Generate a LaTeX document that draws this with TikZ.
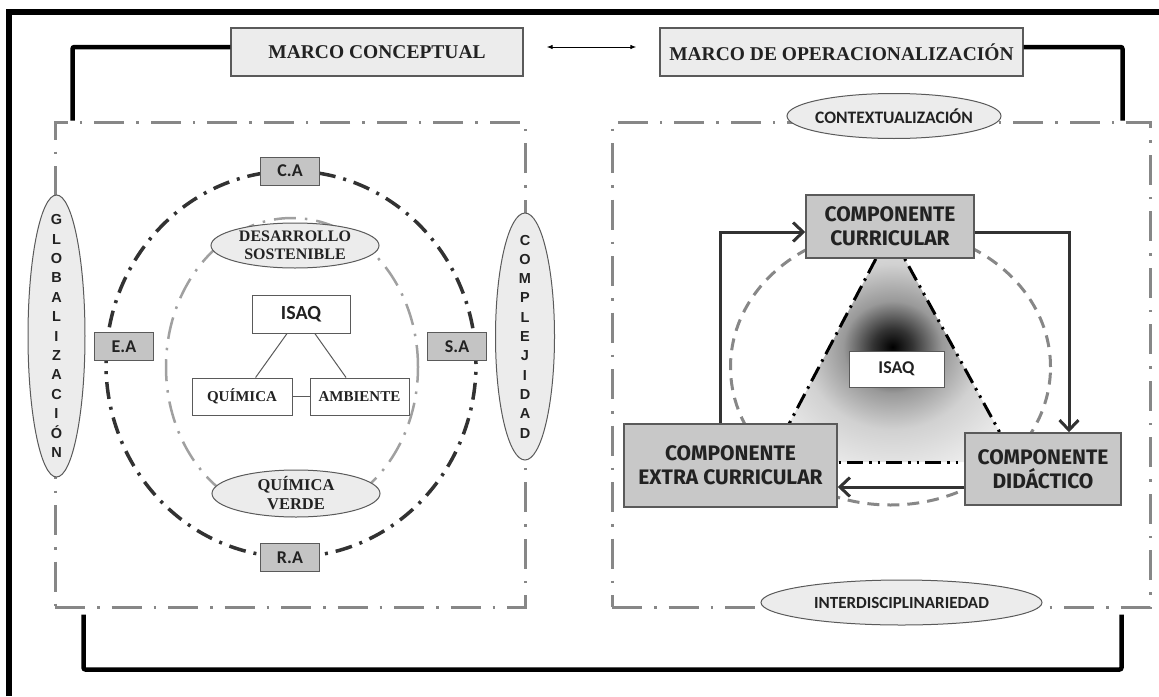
\documentclass[tikz,border=0pt]{standalone}
\usepackage{fontspec}
\setmainfont{Liberation Serif}
\newfontfamily\calibfont{Carlito}
\newfontfamily\arialfont{Liberation Sans}
\newfontfamily\comicfont{Fira Sans}
\usepackage{tikz}
\usetikzlibrary{arrows.meta,positioning,shapes.geometric}
\definecolor{isaqInk}{RGB}{34,34,34}
\definecolor{isaqEdge}{RGB}{90,90,90}
\definecolor{isaqLightGray}{RGB}{236,236,236}
\definecolor{isaqTag}{RGB}{196,196,196}
\definecolor{isaqComp}{RGB}{200,200,200}
\definecolor{isaqRegion}{RGB}{135,135,135}
\definecolor{isaqRing}{RGB}{50,50,50}
\definecolor{isaqHalo}{RGB}{160,160,160}
\definecolor{isaqFlow}{RGB}{50,50,50}
\pgfdeclareradialshading{isaqglow}{\pgfpoint{0bp}{0bp}}{color(0bp)=(black); color(4bp)=(black!80); color(10bp)=(black!40); color(18bp)=(black!18); color(28bp)=(black!8); color(38bp)=(white); color(50bp)=(white)}

\begin{document}
\begin{tikzpicture}[x=1pt,y=-1pt,
  every node/.style={text=isaqInk},
  marco/.style={draw=isaqEdge,fill=isaqLightGray,line width=1.2pt,minimum width=292pt,minimum height=48pt,inner sep=0pt,font=\bfseries\fontsize{19.5}{20}\selectfont},
  region/.style={draw=isaqRegion,line width=3pt,dash pattern=on 30pt off 12pt on 2.5pt off 12pt,inner sep=0pt},
  tag/.style={draw=isaqEdge,fill=isaqTag,line width=1pt,minimum width=59pt,minimum height=28pt,inner sep=0pt,font=\calibfont\bfseries\fontsize{18}{18}\selectfont},
  concept/.style={draw=isaqEdge,fill=white,line width=1pt,minimum height=37pt,inner sep=0pt},
  bubble/.style={ellipse,draw=isaqEdge,fill=isaqLightGray,line width=1pt,inner sep=0pt},
  bubbletext/.style={align=center,inner sep=0pt},
  compbox/.style={draw=isaqEdge,fill=isaqComp,line width=1.5pt,align=center,inner sep=0pt,font=\comicfont\bfseries\fontsize{21}{24}\selectfont},
  link/.style={line width=4.5pt,black,rounded corners=2pt},
  twoway/.style={{Latex[length=6pt]}-{Latex[length=6pt]},line width=1pt,shorten <=23pt,shorten >=23pt},
  ring/.style={draw=isaqRing,line width=3.5pt,dash pattern=on 17pt off 8pt on 3pt off 8pt},
  halo/.style={draw=isaqHalo,line width=2.5pt,dash pattern=on 22pt off 9pt on 2.5pt off 9pt},
  ringdash/.style={draw=isaqRegion,line width=3pt,dash pattern=on 12pt off 8pt},
  tie/.style={draw=isaqEdge,line width=1pt},
  sideA/.style={draw=black,line width=3pt,dash pattern=on 16pt off 6pt on 2.5pt off 6pt},
  sideB/.style={draw=black,line width=3pt,dash pattern=on 16pt off 6pt on 2.5pt off 6pt on 2.5pt off 6pt},
  flow/.style={line width=3pt,isaqFlow,-{Straight Barb[length=10pt,width=19pt]}}
]
  \useasboundingbox (0,0) rectangle (1159,696);
  % outer frame
  \draw[line width=5.5pt] (9,696) -- (9,12) -- (1159,12);

  % frameworks
  \node[marco] (concept) at (377,52) {MARCO CONCEPTUAL};
  \node[marco,minimum width=363pt] (oper) at (841.5,52) {MARCO DE OPERACIONALIZACIÓN};
  \draw[twoway] ([yshift=5pt]concept.east) -- ([yshift=5pt]oper.west);

  \node[region,minimum width=470pt,minimum height=485pt] (left) at (290,364.5) {};
  \node[region,minimum width=538pt,minimum height=485pt] (right) at (881,364.5) {};

  \draw[link] ([yshift=5pt]concept.west) -| ([xshift=19pt]left.north west);
  \draw[link] ([yshift=5pt]oper.east) -| ([xshift=-29pt]right.north east);
  \coordinate (leftfoot) at ([xshift=30pt,yshift=-6pt]left.south west);
  \coordinate (rightfoot) at ([xshift=-30pt,yshift=-6pt]right.south east);
  \draw[link] (leftfoot) -- ++(0,55) -| (rightfoot);

  % conceptual side
  \draw[ring] (291,364) ellipse [x radius=185pt,y radius=193pt];
  \draw[halo] (292,367) ellipse [x radius=126pt,y radius=149pt];

  \node[bubble,minimum width=57pt,minimum height=282pt] (glob) at (56.5,336) {};
  \node[bubbletext,font=\arialfont\bfseries\fontsize{14.5}{19.4}\selectfont] (globtext) at (glob) {G\\L\\O\\B\\A\\L\\I\\Z\\A\\C\\I\\Ó\\N};
  \node[bubble,minimum width=59pt,minimum height=247pt] (compl) at (525,336.5) {};
  \node[bubbletext,font=\arialfont\bfseries\fontsize{14.5}{19.3}\selectfont] (compltext) at (compl) {C\\O\\M\\P\\L\\E\\J\\I\\D\\A\\D};

  \node[tag] (ca) at (290,171) {C.A};
  \node[tag] (ea) at (124,346.5) {E.A};
  \node[tag] (sa) at (457,346.5) {S.A};
  \node[tag] (ra) at (290,557.5) {R.A};

  \node[bubble,minimum width=168pt,minimum height=45pt] (devel) at (295,245.5) {};
  \node[bubbletext,font=\bfseries\fontsize{16}{18}\selectfont] (develtext) at (devel) {DESARROLLO\\SOSTENIBLE};
  \node[bubble,minimum width=168pt,minimum height=47pt] (green) at (296,493.5) {};
  \node[bubbletext,font=\bfseries\fontsize{16.5}{19}\selectfont] (greentext) at (green) {QUÍMICA\\VERDE};

  \node[concept,minimum width=98pt,minimum height=38pt,font=\calibfont\bfseries\fontsize{20}{20}\selectfont] (isaqleft) at (301,314) {ISAQ};
  \node[concept,minimum width=100pt,font=\bfseries\fontsize{15}{15}\selectfont] (quimica) at (242,396.5) {QUÍMICA};
  \node[concept,minimum width=99pt,font=\bfseries\fontsize{15}{15}\selectfont,right=17pt of quimica] (ambiente) {AMBIENTE};
  \draw[tie] (isaqleft) -- (quimica);
  \draw[tie] (isaqleft) -- (ambiente);
  \draw[tie] (quimica) -- (ambiente);

  % operational side
  \node[bubble,minimum width=214pt,minimum height=45pt] (context) at (894,116) {};
  \node[bubbletext,font=\calibfont\bfseries\fontsize{17.5}{18}\selectfont] (contexttext) at (context) {CONTEXTUALIZACIÓN};
  \node[bubble,minimum width=281pt,minimum height=45pt] (inter) at (901.5,602.5) {};
  \node[bubbletext,font=\calibfont\bfseries\fontsize{17}{18}\selectfont] (intertext) at (inter) {INTERDISCIPLINARIEDAD};

  \draw[ringdash] (890.5,367) ellipse [x radius=160pt,y radius=138pt];

  \coordinate (apex) at (890,232);
  \coordinate (baseleft) at (769,462);
  \coordinate (baseright) at (1016,462);
  \shade[shading=isaqglow] (apex) -- (baseleft) -- (baseright) -- cycle;
  \draw[sideA] (apex) -- (baseleft);
  \draw[sideB] (apex) -- (baseright);
  \draw[sideB] (baseleft) -- (baseright);

  \node[concept,minimum width=95pt,minimum height=36pt,font=\calibfont\bfseries\fontsize{18}{18}\selectfont] (isaqright) at (896.5,369) {ISAQ};

  \node[compbox,minimum width=168pt,minimum height=63pt] (curricular) at (890,226.5) {COMPONENTE\\CURRICULAR};
  \node[compbox,minimum width=213pt,minimum height=83pt] (extra) at (730.5,465.5) {COMPONENTE\\EXTRA CURRICULAR};
  \node[compbox,minimum width=156pt,minimum height=72pt] (didactic) at (1043,469) {COMPONENTE\\DIDÁCTICO};

  \draw[flow] ([xshift=-10.5pt]extra.north) |- ([yshift=-5.5pt]curricular.west);
  \draw[flow] ([yshift=-5.5pt]curricular.east) -| ([xshift=26pt]didactic.north);
  \draw[flow] ([yshift=-18pt]didactic.west) -- ([yshift=-18pt]didactic.west -| extra.east);
\end{tikzpicture}
\end{document}
